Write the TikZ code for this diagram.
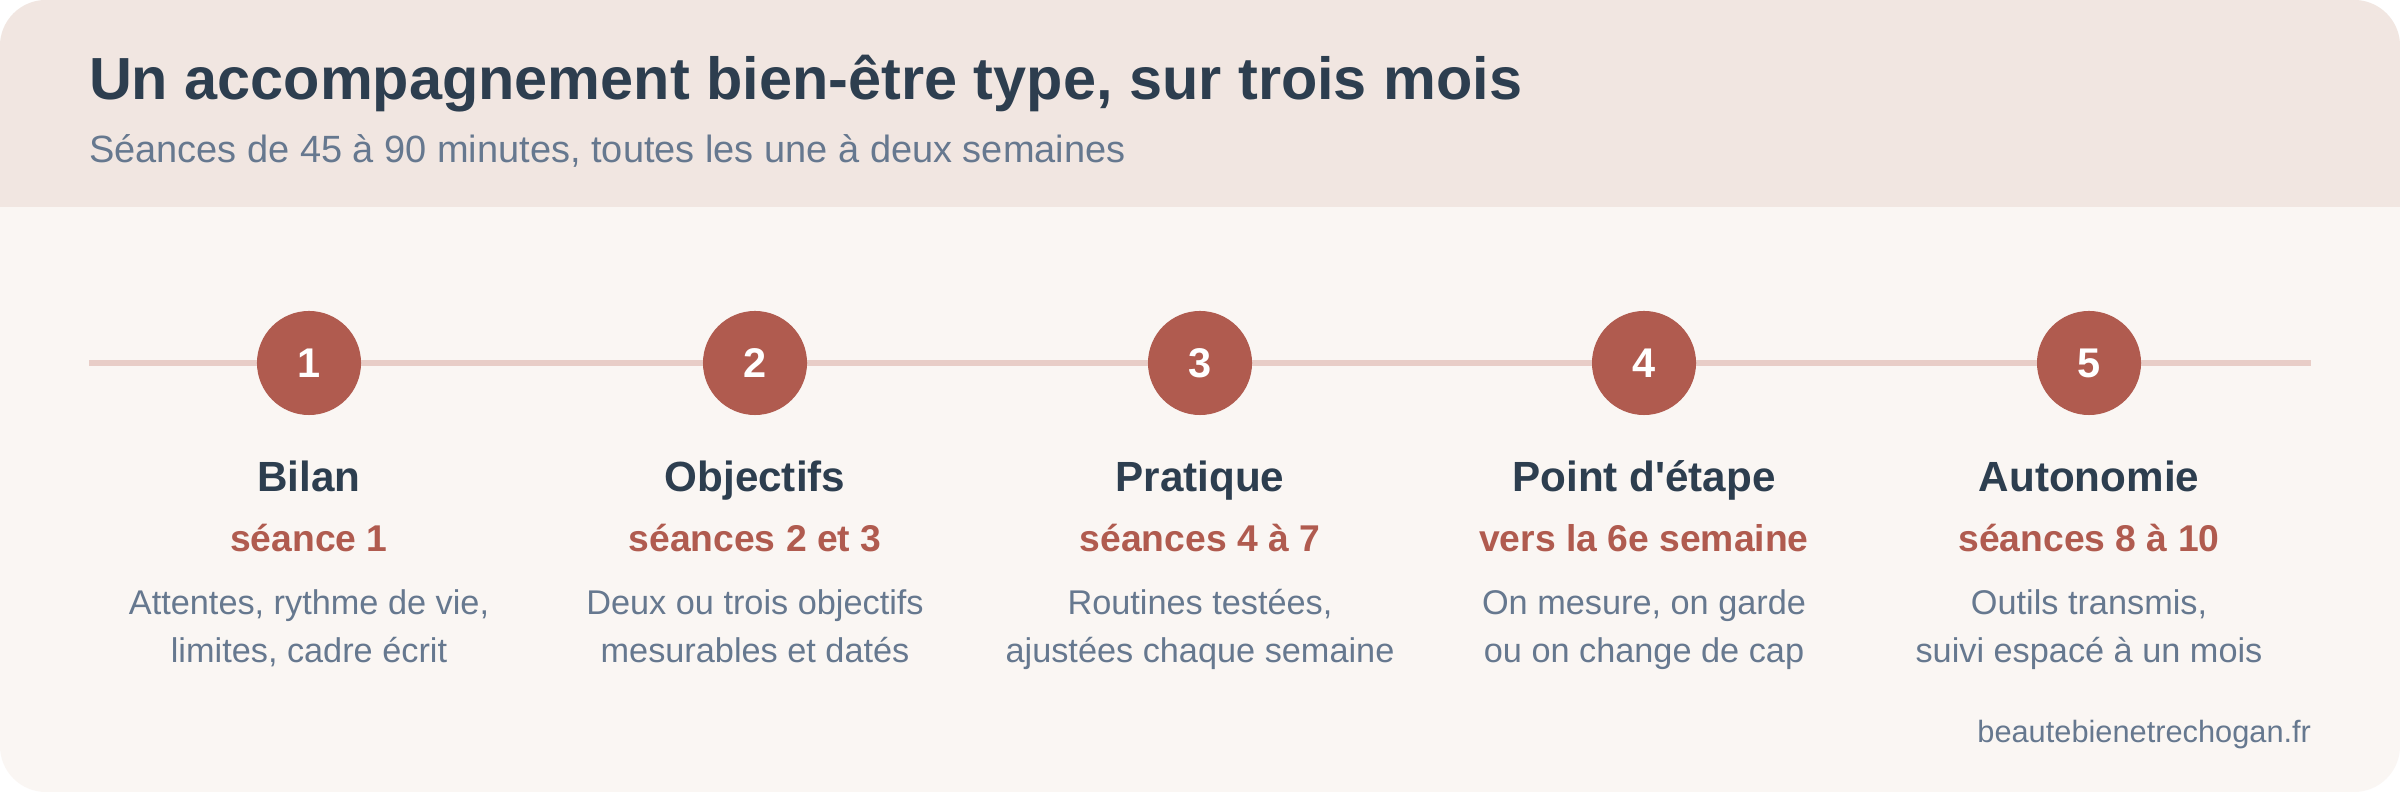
\documentclass[tikz,border=0pt]{standalone}
\usepackage{fontspec}
\setmainfont{Liberation Sans}
\usetikzlibrary{positioning}

\definecolor{headbg}{HTML}{F1E6E1}
\definecolor{bodybg}{HTML}{FAF6F3}
\definecolor{ink}{HTML}{2D3E4F}
\definecolor{slate}{HTML}{66788F}
\definecolor{brick}{HTML}{B05B4F}
\definecolor{rail}{HTML}{E8CDC7}

\begin{document}
\begin{tikzpicture}[x=0.01cm, y=-0.01cm,
            every node/.style={inner sep=0pt, outer sep=0pt},
            headline/.style={font=\bfseries\fontsize{16.9}{20}\selectfont, text=ink, anchor=base west},
            subline/.style={font=\fontsize{10.8}{13}\selectfont, text=slate, anchor=base west},
            stepdot/.style={circle, fill=brick, minimum size=1.04cm, text=white, font=\bfseries\fontsize{11.8}{13}\selectfont},
            steptitle/.style={font=\bfseries\fontsize{12}{14}\selectfont, text=ink, anchor=base},
            stepwhen/.style={font=\bfseries\fontsize{10.6}{13}\selectfont, text=brick, anchor=base},
            stepdesc/.style={font=\fontsize{9.75}{13.7}\selectfont, text=slate, anchor=base, align=center},
            source/.style={font=\fontsize{8.75}{11}\selectfont, text=slate, anchor=base east}
            ]

    % card and header band
    \fill[white] (0,0) rectangle (2400,792);
    \fill[bodybg, rounded corners=0.46cm] (0,0) rectangle (2400,792);
    \fill[headbg] (0,207) {[rounded corners=0.46cm] -- (0,0) -- (2400,0)} -- (2400,207) -- cycle;

    \node[headline] (title) at (89,100) {Un accompagnement bien-être type, sur trois mois};
    \node[subline] (subtitle) at (89,163) {Séances de 45 à 90 minutes, toutes les une à deux semaines};

    % timeline rail
    \coordinate (rail-start) at (89,363);
    \coordinate (rail-end) at (2311,363);
    \draw[rail, line width=0.06cm] (rail-start) -- (rail-end);

    % the five steps (desc anchored on its last line)
    \foreach \i/\x/\ttl/\when/\da/\db in {
        1/309/Bilan/séance 1/{Attentes, rythme de vie,}/{limites, cadre écrit},
        2/755/Objectifs/séances 2 et 3/{Deux ou trois objectifs}/{mesurables et datés},
        3/1200/Pratique/séances 4 à 7/{Routines testées,}/{ajustées chaque semaine},
        4/1644/Point d\textquotesingle étape/vers la 6e semaine/{On mesure, on garde}/{ou on change de cap},
        5/2089/Autonomie/séances 8 à 10/{Outils transmis,}/{suivi espacé à un mois}}
    {
        \node[stepdot] (dot\i) at (\x,363) {\i};
        \node[steptitle] (ttl\i) at (\x,492) {\ttl};
        \node[stepwhen] (when\i) at (\x,552) {\when};
        \node[stepdesc] (desc\i) at (\x,663) {\da\\\db};
    }

    \node[source] (site) at (2311,743) {beautebienetrechogan.fr};

\end{tikzpicture}
\end{document}
